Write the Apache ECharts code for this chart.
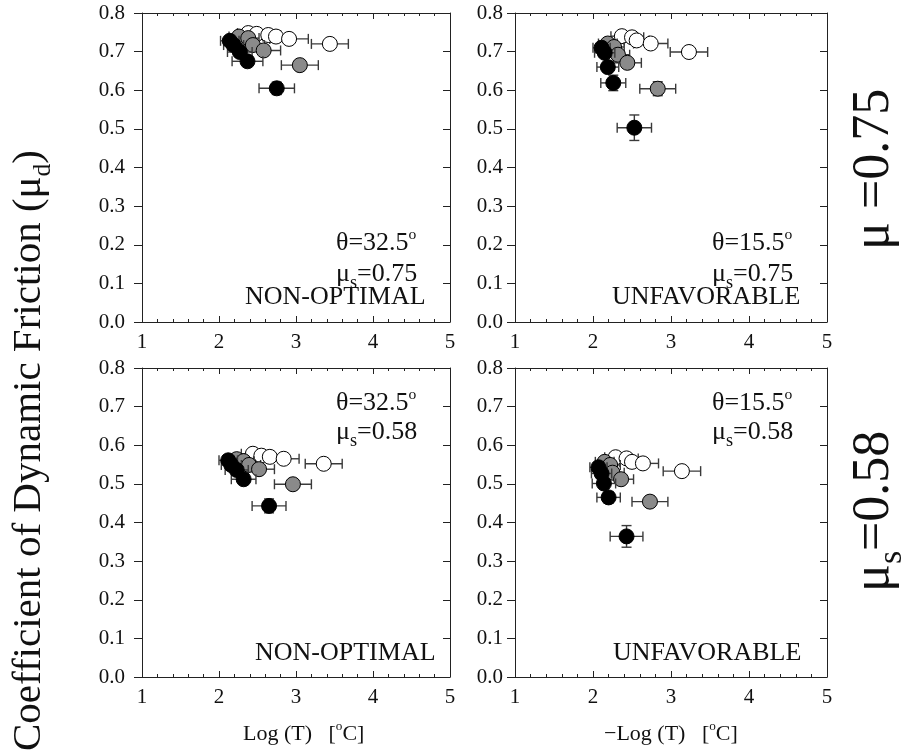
<!DOCTYPE html>
<html><head><meta charset="utf-8">
<script src="https://cdn.jsdelivr.net/npm/echarts@6/dist/echarts.min.js"></script>
<style>html,body{margin:0;padding:0;background:#fff}#c{width:903px;height:753px}</style>
</head><body><div id="c"></div>
<script>
// ---- tick ranges ----
const xTicks = [1, 2, 3, 4, 5];
const yTicks = [0.0, 0.1, 0.2, 0.3, 0.4, 0.5, 0.6, 0.7, 0.8];

// ---- data: [x, y, xErr, yErr] ----
// Top-left: theta=32.5, mu_s=0.75, NON-OPTIMAL
const A_open  = [[2.38,0.748,0.14,0.008],[2.49,0.746,0.15,0.008],[2.64,0.743,0.16,0.008],[2.74,0.739,0.17,0.008],[2.91,0.733,0.25,0.008],[3.44,0.720,0.24,0.010]];
const A_gray  = [[2.26,0.739,0.13,0.008],[2.38,0.735,0.14,0.008],[2.44,0.717,0.15,0.008],[2.58,0.703,0.22,0.008],[3.05,0.665,0.24,0.012]];
const A_black = [[2.14,0.728,0.12,0.008],[2.19,0.717,0.13,0.008],[2.27,0.699,0.16,0.010],[2.37,0.675,0.20,0.010],[2.75,0.605,0.23,0.016]];
// Top-right: theta=15.5, mu_s=0.75, UNFAVORABLE
const B_open  = [[2.37,0.740,0.14,0.008],[2.50,0.737,0.15,0.008],[2.56,0.729,0.16,0.008],[2.74,0.721,0.22,0.008],[3.23,0.699,0.24,0.010]];
const B_gray  = [[2.19,0.721,0.12,0.008],[2.27,0.712,0.13,0.008],[2.32,0.692,0.15,0.010],[2.44,0.671,0.18,0.010],[2.83,0.604,0.23,0.018]];
const B_black = [[2.11,0.710,0.11,0.008],[2.15,0.697,0.13,0.010],[2.19,0.660,0.14,0.012],[2.26,0.619,0.16,0.020],[2.53,0.503,0.22,0.033]];
// Bottom-left: theta=32.5, mu_s=0.58, NON-OPTIMAL
const C_open  = [[2.44,0.578,0.15,0.008],[2.55,0.573,0.15,0.008],[2.66,0.570,0.16,0.008],[2.84,0.565,0.20,0.008],[3.36,0.552,0.24,0.010]];
const C_gray  = [[2.23,0.564,0.12,0.008],[2.32,0.559,0.13,0.008],[2.39,0.549,0.15,0.008],[2.52,0.538,0.20,0.010],[2.96,0.499,0.24,0.012]];
const C_black = [[2.12,0.561,0.12,0.008],[2.16,0.549,0.13,0.008],[2.23,0.536,0.15,0.010],[2.32,0.512,0.16,0.012],[2.65,0.443,0.22,0.018]];
// Bottom-right: theta=15.5, mu_s=0.58, UNFAVORABLE
const D_open  = [[2.29,0.569,0.14,0.008],[2.43,0.566,0.15,0.008],[2.50,0.557,0.16,0.008],[2.64,0.553,0.20,0.008],[3.14,0.533,0.24,0.010]];
const D_gray  = [[2.15,0.557,0.12,0.008],[2.22,0.549,0.13,0.008],[2.25,0.529,0.15,0.010],[2.36,0.512,0.16,0.010],[2.73,0.454,0.23,0.014]];
const D_black = [[2.07,0.543,0.11,0.008],[2.11,0.527,0.13,0.010],[2.14,0.501,0.15,0.012],[2.20,0.465,0.15,0.015],[2.43,0.364,0.21,0.028]];

const FONT = '"Liberation Serif","Times New Roman",serif';
const INK = '#111';

const panels = [
  {grid:{left:142, top:13,  width:308, height:309}, sets:[A_open,A_gray,A_black], yMargin:17},
  {grid:{left:515, top:13,  width:312, height:309}, sets:[B_open,B_gray,B_black], yMargin:12},
  {grid:{left:142, top:368, width:308, height:309}, sets:[C_open,C_gray,C_black], yMargin:17},
  {grid:{left:515, top:368, width:312, height:309}, sets:[D_open,D_gray,D_black], yMargin:12}
];
const fills = ['#ffffff', '#8a8a8a', '#000000'];

const grid = [], xAxis = [], yAxis = [], series = [];
panels.forEach((p, i) => {
  grid.push(Object.assign({containLabel:false}, p.grid));
  const lineStyle = {color:'#222', width:1};
  const xBase = {gridIndex:i, type:'value', min:xTicks[0], max:xTicks[xTicks.length-1], interval:1,
    axisLine:{show:true, onZero:false, lineStyle}, splitLine:{show:false},
    axisTick:{show:true, inside:true, length:6, lineStyle},
    minorTick:{show:true, splitNumber:5, length:3, lineStyle}};
  xAxis.push(Object.assign({}, xBase, {position:'bottom',
    axisLabel:{show:true, margin:10, fontFamily:FONT, fontSize:21, color:INK}}));
  xAxis.push(Object.assign({}, xBase, {position:'top', axisLabel:{show:false}}));
  const yBase = {gridIndex:i, type:'value', min:yTicks[0], max:yTicks[yTicks.length-1], interval:0.1,
    axisLine:{show:true, onZero:false, lineStyle}, splitLine:{show:false}};
  yAxis.push(Object.assign({}, yBase, {position:'left',
    axisTick:{show:true, inside:false, length:8, lineStyle},
    axisLabel:{show:true, margin:p.yMargin, fontFamily:FONT, fontSize:21, color:INK,
      formatter:v => v.toFixed(1)}}));
  yAxis.push(Object.assign({}, yBase, {position:'right',
    axisTick:{show:true, inside:true, length:7, lineStyle}, axisLabel:{show:false}}));

  p.sets.forEach((d, k) => {
    series.push({
      type:'custom', xAxisIndex:2*i, yAxisIndex:2*i, data:d, z:2+2*k, silent:true,
      encode:{x:0, y:1},
      renderItem:(params, api) => {
        const x = api.value(0), y = api.value(1), ex = api.value(2), ey = api.value(3);
        const l = api.coord([x-ex, y]), r = api.coord([x+ex, y]);
        const t = api.coord([x, y+ey]), b = api.coord([x, y-ey]);
        const cap = 5, st = {stroke:'#3a3a3a', lineWidth:1.4};
        return {type:'group', children:[
          {type:'line', shape:{x1:l[0], y1:l[1], x2:r[0], y2:r[1]}, style:st},
          {type:'line', shape:{x1:l[0], y1:l[1]-cap, x2:l[0], y2:l[1]+cap}, style:st},
          {type:'line', shape:{x1:r[0], y1:r[1]-cap, x2:r[0], y2:r[1]+cap}, style:st},
          {type:'line', shape:{x1:t[0], y1:t[1], x2:b[0], y2:b[1]}, style:st},
          {type:'line', shape:{x1:t[0]-cap, y1:t[1], x2:t[0]+cap, y2:t[1]}, style:st},
          {type:'line', shape:{x1:b[0]-cap, y1:b[1], x2:b[0]+cap, y2:b[1]}, style:st}
        ]};
      }
    });
    series.push({
      type:'scatter', xAxisIndex:2*i, yAxisIndex:2*i, z:3+2*k, silent:true,
      data:d.map(v => [v[0], v[1]]), symbol:'circle', symbolSize:15,
      itemStyle:{color:fills[k], borderColor:'#000', borderWidth:1, opacity:1}
    });
  });
});

// ---- text helpers (sub/superscripts) ----
const mctx = document.createElement('canvas').getContext('2d');
function tw(t, size){ mctx.font = size + 'px ' + FONT; return mctx.measureText(t).width; }
function rich(x, y, size, parts, rotation){
  let cx = 0; const children = [];
  parts.forEach(([t, s, dy]) => {
    const fs = size * s;
    children.push({type:'text', x:cx, y:dy*size, style:{text:t, fontSize:fs, fontFamily:FONT, fill:INK,
      textAlign:'left', textVerticalAlign:'middle', align:'left', verticalAlign:'middle'}});
    cx += tw(t, fs);
  });
  return {type:'group', x, y, rotation:rotation||0, children, silent:true};
}
const SUB = 0.34, SUP = -0.33;
const AF = 26;
const graphic = [
  rich(29, 751, 41, [['Coefficient of Dynamic Friction (μ',1,0],['d',0.62,SUB],[')',1,0]], Math.PI/2),
  rich(874, 250, 52, [['μ =0.75',1,0]], Math.PI/2),
  rich(874, 592, 52, [['μ',1,0],['s',0.65,SUB],['=0.58',1,0]], Math.PI/2),
  // top-left
  rich(336, 243, AF, [['θ=32.5',1,0],['o',0.6,SUP]]),
  rich(336, 274, AF, [['μ',1,0],['s',0.7,SUB],['=0.75',1,0]]),
  rich(245, 297, AF, [['NON-OPTIMAL',1,0]]),
  // top-right
  rich(712, 243, AF, [['θ=15.5',1,0],['o',0.6,SUP]]),
  rich(712, 274, AF, [['μ',1,0],['s',0.7,SUB],['=0.75',1,0]]),
  rich(612, 297, AF, [['UNFAVORABLE',1,0]]),
  // bottom-left
  rich(336, 403, AF, [['θ=32.5',1,0],['o',0.6,SUP]]),
  rich(336, 432, AF, [['μ',1,0],['s',0.7,SUB],['=0.58',1,0]]),
  rich(255, 653, AF, [['NON-OPTIMAL',1,0]]),
  // bottom-right
  rich(712, 403, AF, [['θ=15.5',1,0],['o',0.6,SUP]]),
  rich(712, 432, AF, [['μ',1,0],['s',0.7,SUB],['=0.58',1,0]]),
  rich(613, 653, AF, [['UNFAVORABLE',1,0]]),
  // x titles
  rich(243, 734, 22, [['Log (T)   [',1,0],['o',0.6,SUP],['C]',1,0]]),
  rich(604, 734, 22, [['−Log (T)   [',1,0],['o',0.6,SUP],['C]',1,0]])
];

const chart = echarts.init(document.getElementById('c'), null, {renderer:'canvas'});
chart.setOption({animation:false, backgroundColor:'#fff', grid, xAxis, yAxis, series, graphic});
</script></body></html>
